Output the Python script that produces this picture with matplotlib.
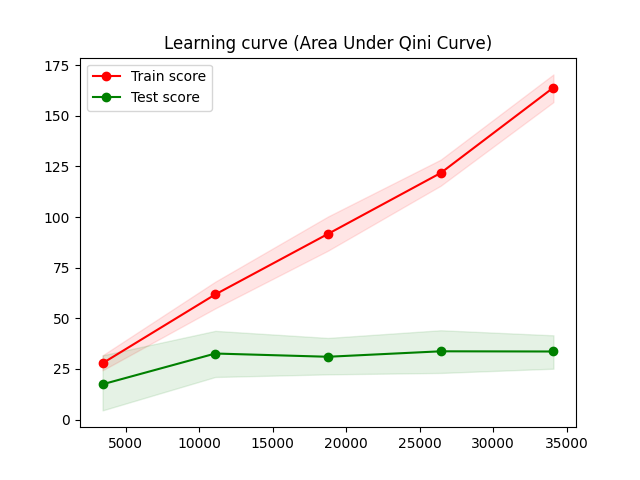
import numpy as np
import matplotlib
matplotlib.use('Agg')
import matplotlib.pyplot as plt

# 训练样本数
train_sizes = [3410, 11083, 18755, 26428, 34100]

# 训练分数 (均值与上下界)
train_mean = [27.8, 61.8, 91.7, 121.8, 164.0]
train_upper = [31.7, 68.1, 100.3, 128.4, 170.5]
train_lower = [24.3, 54.9, 83.4, 115.5, 156.8]

# 测试分数
test_mean = [17.4, 32.6, 31.0, 33.7, 33.6]
test_upper = [31.7, 43.8, 40.3, 44.1, 41.6]
test_lower = [4.5, 21.0, 22.3, 23.0, 25.1]

plt.figure(figsize=(6.4, 4.8), dpi=100)
plt.fill_between(train_sizes, train_lower, train_upper, alpha=0.1, color='r')
plt.fill_between(train_sizes, test_lower, test_upper, alpha=0.1, color='g')
plt.plot(train_sizes, train_mean, 'o-', color='r', label='Train score')
plt.plot(train_sizes, test_mean, 'o-', color='g', label='Test score')
plt.title('Learning curve (Area Under Qini Curve)')
plt.legend(loc='best')

plt.savefig('out.png')
